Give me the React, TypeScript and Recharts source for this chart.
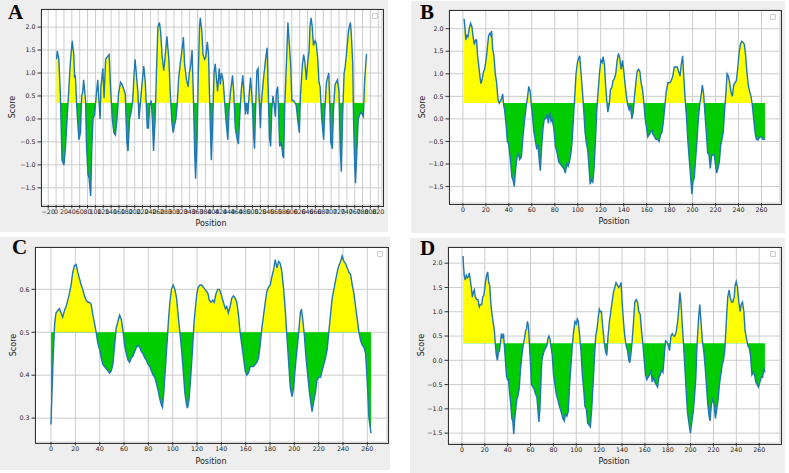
import React from 'react';
import { ComposedChart, Area, XAxis, YAxis, CartesianGrid } from 'recharts';

// Panel A: hydrophilicity-style profile, ~790 residues
const posA = [1, 3, 7, 11, 15, 20, 24, 28, 32, 36, 41, 45, 47, 49, 53, 58, 62, 65, 68, 70, 75, 77, 81, 84, 88, 91, 94, 98, 102, 106, 109, 112, 114, 119, 122, 126, 130, 135, 139, 143, 147, 151, 155, 159, 164, 168, 172, 176, 180, 183, 187, 191, 195, 198, 201, 204, 208, 211, 215, 219, 223, 227, 232, 235, 238, 242, 245, 248, 252, 255, 259, 263, 266, 270, 274, 278, 282, 287, 291, 295, 298, 301, 305, 308, 312, 316, 321, 324, 327, 332, 336, 339, 343, 346, 349, 353, 355, 359, 362, 365, 367, 371, 374, 378, 381, 385, 388, 392, 395, 398, 402, 405, 409, 411, 415, 418, 421, 425, 428, 432, 437, 440, 444, 449, 452, 456, 460, 464, 467, 471, 475, 478, 482, 485, 488, 492, 495, 499, 503, 505, 508, 511, 514, 517, 520, 522, 527, 530, 533, 537, 539, 543, 546, 549, 552, 555, 558, 561, 564, 566, 569, 573, 577, 579, 582, 587, 590, 593, 597, 600, 604, 608, 611, 616, 619, 622, 627, 630, 633, 637, 640, 644, 646, 649, 652, 655, 659, 662, 666, 669, 672, 676, 681, 684, 688, 691, 694, 696, 699, 703, 706, 710, 713, 716, 720, 723, 726, 729, 733, 736, 740, 744, 746, 749, 751, 755, 757, 760, 762, 766, 769, 773, 776, 779, 782, 785, 790];
const scoreA = [1.3, 1.48, 1.3, 0.5, -0.9, -1.0, -0.6, 0.0, 0.6, 1.2, 1.7, 1.4, 0.9, 0.95, 0.2, -0.45, -0.3, 0.5, 0.6, 0.85, 0.4, -0.5, -1.2, -1.3, -1.68, -0.6, 0.0, 0.1, 0.5, 0.85, 0.4, 0.0, 0.7, 1.1, 0.45, 1.3, 1.35, 1.4, 0.6, 0.0, -0.3, -0.35, 0.0, 0.55, 0.8, 0.75, 0.65, 0.55, -0.5, -0.7, 0.0, 0.15, 0.4, 0.9, 1.3, 1.0, 0.6, 0.0, 0.4, 0.8, 1.15, 0.8, -0.2, -0.2, 0.3, 0.4, 0.0, -0.7, 0.0, 0.9, 2.0, 2.1, 1.9, 1.35, 1.05, 1.4, 1.8, 1.3, 0.5, -0.1, -0.3, -0.15, 0.0, 0.3, 0.9, 1.2, 1.55, 1.78, 1.2, 0.85, 0.7, 1.0, 1.2, 1.5, 0.6, -0.8, -1.3, -0.4, 1.0, 2.0, 2.2, 1.9, 1.4, 1.3, 1.35, 1.68, 1.4, 0.0, -0.9, -0.2, 1.0, 1.2, 0.8, 0.6, 1.1, 0.75, 1.0, 0.85, 0.5, 0.0, -0.45, 0.2, 0.6, 0.95, 0.6, -0.2, -0.4, -0.55, 0.0, 0.6, 0.95, 0.6, 0.1, 0.35, 0.1, 0.6, 0.9, 0.4, -0.4, -0.65, 0.3, 1.05, 1.1, 0.4, -0.2, 0.3, 0.8, 1.05, 1.3, 1.55, 0.9, -0.4, -0.6, 0.2, 0.5, 0.3, 0.05, 0.6, 0.7, 0.2, -0.6, -0.5, -0.8, -0.85, 0.3, 1.4, 2.1, 1.7, 1.2, 0.4, 0.4, 0.35, 0.3, -0.1, -0.3, 0.5, 1.2, 1.4, 1.25, 0.85, 1.2, 1.5, 2.0, 2.2, 2.0, 1.6, 1.7, 1.65, 1.3, 0.8, 0.7, 0.0, -0.45, 0.2, 0.8, 0.9, 1.0, 0.5, -0.5, -0.65, 0.2, 0.75, 0.8, 0.85, 0.6, -0.6, -1.15, 0.0, 1.0, 1.15, 1.5, 1.9, 2.0, 2.1, 1.9, 1.2, 0.0, -1.0, -1.4, -0.6, 0.0, 0.1, 0.15, 0.1, 0.05, 0.8, 1.42];

// Panel B
const posB = [1, 1.5, 2.6, 3.5, 4.4, 5.5, 6.7, 7.8, 9.0, 9.9, 11.0, 11.9, 12.8, 13.7, 14.8, 15.7, 16.9, 18.0, 18.9, 20.1, 21.2, 22.4, 23.5, 24.4, 25.0, 25.9, 27.0, 28.2, 29.4, 30.5, 31.7, 32.8, 33.7, 34.6, 35.5, 36.3, 37.5, 38.7, 39.8, 41.3, 42.7, 43.6, 44.8, 45.6, 47.1, 48.5, 49.4, 50.9, 52.3, 53.8, 55.2, 56.4, 57.3, 58.7, 59.6, 60.8, 61.9, 63.1, 64.2, 65.4, 66.6, 67.4, 68.6, 69.8, 70.9, 72.1, 73.3, 74.4, 75.6, 76.7, 77.6, 79.1, 80.5, 82.0, 83.4, 84.9, 86.3, 87.8, 89.2, 90.4, 91.6, 92.7, 93.9, 95.1, 96.2, 97.4, 98.5, 99.7, 100.9, 101.7, 102.9, 104.1, 105.2, 106.4, 107.6, 108.7, 109.6, 110.8, 111.9, 113.1, 114.2, 115.4, 116.6, 117.7, 118.9, 120.1, 121.2, 122.1, 123.3, 124.1, 125.3, 126.2, 127.3, 128.5, 129.7, 130.8, 132.0, 133.1, 134.3, 135.5, 136.6, 137.8, 139.0, 140.1, 141.3, 142.4, 143.6, 144.8, 145.9, 147.1, 148.3, 149.4, 150.6, 151.7, 152.9, 154.1, 155.2, 156.4, 157.6, 158.7, 159.9, 161.0, 162.2, 163.4, 164.5, 165.7, 166.9, 168.0, 169.5, 170.9, 172.1, 173.3, 174.4, 175.9, 177.0, 178.5, 180.0, 181.4, 182.8, 184.0, 185.2, 186.6, 187.8, 189.0, 190.1, 191.3, 192.4, 193.6, 194.8, 195.9, 197.1, 198.3, 199.4, 200.3, 201.5, 202.6, 203.8, 205.0, 206.1, 207.3, 208.5, 209.6, 210.8, 211.9, 213.1, 214.3, 215.4, 216.6, 217.7, 218.9, 220.1, 220.9, 222.1, 223.3, 224.4, 225.6, 226.7, 227.9, 229.1, 230.0, 231.1, 232.3, 233.4, 234.6, 235.8, 236.9, 238.1, 239.2, 240.4, 241.6, 242.7, 243.9, 245.1, 246.2, 247.4, 248.5, 249.7, 250.9, 252.0, 253.2, 254.4, 255.5, 257.0, 258.4, 259.9, 261.3, 263];
const scoreB = [2.22, 2.1, 1.75, 1.85, 1.82, 2.0, 2.12, 2.05, 1.8, 1.65, 1.75, 1.75, 1.4, 1.2, 0.95, 0.78, 0.9, 1.05, 1.1, 1.3, 1.55, 1.85, 1.9, 1.85, 1.95, 1.55, 1.4, 1.0, 0.8, 0.45, 0.35, 0.4, 0.45, 0.55, 0.3, 0.2, -0.1, -0.5, -0.55, -0.9, -1.3, -1.35, -1.5, -1.2, -0.85, -0.78, -0.9, -0.85, -0.4, 0.0, 0.3, 0.5, 0.72, 0.6, 0.3, 0.0, -0.3, -0.5, -0.65, -0.6, -0.95, -1.15, -0.6, -0.2, 0.0, 0.0, 0.1, -0.1, 0.15, -0.05, 0.0, -0.2, -0.6, -0.75, -0.95, -1.0, -1.05, -1.1, -1.2, -1.0, -1.05, -0.95, -0.8, -0.5, 0.0, 0.5, 1.0, 1.25, 1.35, 1.4, 1.0, 0.6, 0.2, -0.3, -0.55, -0.7, -1.0, -1.45, -1.35, -1.4, -1.1, -0.5, 0.2, 0.6, 1.0, 1.3, 1.25, 1.38, 1.2, 0.8, 0.4, 0.15, 0.3, 0.65, 0.7, 0.85, 0.9, 1.0, 1.3, 1.45, 1.35, 1.1, 1.3, 1.05, 0.75, 0.5, 0.3, 0.2, 0.3, 0.0, 0.15, 0.5, 0.8, 1.05, 1.1, 1.05, 0.8, 0.65, 0.35, 0.0, -0.2, -0.4, -0.35, -0.3, -0.25, -0.35, -0.4, -0.45, -0.45, -0.5, -0.35, -0.3, -0.1, 0.3, 0.6, 0.8, 0.8, 0.85, 0.95, 1.15, 1.15, 1.15, 1.05, 0.95, 1.2, 1.4, 0.9, 0.4, 0.0, -0.5, -0.9, -1.3, -1.67, -1.4, -1.3, -0.9, -0.5, 0.0, 0.3, 0.5, 0.75, 0.55, 0.1, -0.3, -0.75, -0.8, -1.1, -0.8, -0.8, -0.8, -1.05, -1.2, -1.1, -0.95, -0.6, -0.45, -0.3, 0.2, 0.6, 1.0, 0.95, 0.8, 0.6, 0.5, 0.75, 0.8, 0.85, 1.1, 1.45, 1.65, 1.72, 1.7, 1.65, 1.4, 1.0, 0.75, 0.6, 0.5, 0.3, 0.0, -0.3, -0.45, -0.47, -0.4, -0.4, -0.45, -0.45];

// Panel C
const posC = [0, 0.8, 1.9, 3.0, 4.1, 5.5, 6.9, 8.3, 9.6, 11.0, 12.4, 13.8, 15.1, 16.5, 17.9, 19.3, 20.6, 22.0, 23.4, 24.8, 26.1, 27.5, 28.9, 30.3, 31.6, 33.0, 34.4, 35.8, 37.1, 38.5, 39.9, 41.3, 42.6, 44.0, 45.4, 46.8, 48.1, 49.5, 50.9, 52.3, 53.6, 55.0, 56.4, 57.8, 59.1, 60.5, 61.9, 63.3, 64.6, 66.0, 67.4, 68.8, 70.2, 71.5, 72.9, 74.3, 75.7, 77.0, 78.4, 79.8, 81.2, 82.5, 83.9, 85.3, 86.7, 88.0, 89.4, 90.8, 91.6, 92.7, 94.1, 95.5, 96.6, 97.7, 99.0, 100.4, 101.8, 103.2, 104.5, 105.9, 107.3, 108.7, 110.0, 111.4, 112.2, 113.3, 114.7, 116.1, 117.5, 118.8, 119.9, 121.0, 122.4, 123.8, 125.2, 126.5, 127.9, 129.0, 130.1, 131.5, 132.9, 134.2, 135.6, 137.0, 138.4, 139.7, 141.1, 142.2, 143.3, 144.4, 145.8, 147.2, 148.6, 149.9, 151.3, 152.7, 154.1, 155.4, 156.8, 158.2, 159.6, 160.9, 162.3, 163.7, 165.1, 166.4, 167.8, 169.2, 170.6, 171.9, 173.3, 174.7, 176.1, 177.4, 178.8, 180.2, 181.6, 182.9, 184.3, 185.7, 187.1, 188.4, 189.8, 191.2, 192.6, 193.9, 195.3, 196.7, 198.1, 199.4, 200.8, 202.2, 203.6, 204.9, 205.8, 206.9, 208.3, 209.6, 211.0, 212.4, 213.8, 214.6, 216.0, 217.3, 218.7, 220.1, 221.5, 222.8, 224.2, 225.6, 227.0, 228.3, 229.7, 231.1, 232.5, 233.8, 235.2, 236.6, 238.0, 239.3, 240.7, 242.1, 243.5, 244.8, 246.2, 247.6, 249.0, 250.3, 251.7, 253.1, 254.5, 255.8, 257.2, 258.6, 260.0, 261.3, 263];
const scoreC = [0.285, 0.36, 0.45, 0.52, 0.545, 0.55, 0.555, 0.545, 0.535, 0.55, 0.56, 0.575, 0.59, 0.61, 0.64, 0.655, 0.658, 0.64, 0.625, 0.61, 0.6, 0.585, 0.575, 0.57, 0.57, 0.565, 0.54, 0.52, 0.5, 0.475, 0.46, 0.44, 0.425, 0.42, 0.415, 0.41, 0.405, 0.41, 0.425, 0.47, 0.51, 0.525, 0.54, 0.53, 0.505, 0.47, 0.45, 0.435, 0.43, 0.44, 0.445, 0.455, 0.465, 0.47, 0.465, 0.455, 0.45, 0.44, 0.435, 0.425, 0.42, 0.41, 0.4, 0.395, 0.38, 0.365, 0.345, 0.33, 0.325, 0.36, 0.42, 0.48, 0.53, 0.57, 0.6, 0.61, 0.6, 0.58, 0.54, 0.5, 0.46, 0.41, 0.36, 0.33, 0.323, 0.34, 0.39, 0.45, 0.52, 0.56, 0.59, 0.605, 0.61, 0.61, 0.605, 0.6, 0.595, 0.59, 0.575, 0.57, 0.575, 0.57, 0.59, 0.6, 0.6, 0.59, 0.575, 0.565, 0.555, 0.56, 0.545, 0.56, 0.58, 0.585, 0.58, 0.57, 0.54, 0.5, 0.47, 0.44, 0.41, 0.4, 0.405, 0.42, 0.42, 0.42, 0.425, 0.43, 0.44, 0.47, 0.51, 0.54, 0.57, 0.595, 0.605, 0.61, 0.63, 0.645, 0.669, 0.65, 0.665, 0.66, 0.64, 0.6, 0.55, 0.49, 0.43, 0.37, 0.35, 0.37, 0.42, 0.46, 0.5, 0.545, 0.554, 0.53, 0.49, 0.44, 0.4, 0.36, 0.33, 0.315, 0.34, 0.36, 0.39, 0.395, 0.395, 0.41, 0.425, 0.44, 0.46, 0.5, 0.54, 0.58, 0.6, 0.62, 0.64, 0.655, 0.665, 0.678, 0.665, 0.66, 0.65, 0.64, 0.635, 0.61, 0.59, 0.56, 0.53, 0.5, 0.48, 0.47, 0.465, 0.45, 0.38, 0.3, 0.265];

// Panel D
const posD = [1, 1.2, 2.0, 2.9, 3.8, 4.7, 5.6, 6.4, 7.3, 8.2, 9.1, 9.9, 10.8, 11.7, 12.9, 14.0, 15.2, 16.1, 17.3, 18.1, 19.3, 20.5, 21.6, 22.5, 23.4, 24.3, 25.2, 26.0, 27.2, 28.4, 29.3, 30.1, 31.0, 31.9, 32.8, 33.6, 34.5, 35.4, 36.3, 37.1, 38.0, 38.9, 39.8, 40.7, 41.8, 42.7, 43.6, 44.5, 45.3, 46.2, 47.1, 48.0, 48.8, 50.0, 51.2, 52.4, 53.5, 54.7, 55.6, 56.5, 57.3, 58.2, 59.1, 60.0, 60.8, 62.0, 63.2, 64.4, 65.5, 66.4, 67.3, 68.2, 69.0, 69.9, 70.8, 72.0, 73.1, 74.3, 75.2, 76.1, 76.9, 77.8, 79.0, 80.1, 81.3, 82.5, 83.7, 84.8, 86.0, 87.2, 88.3, 89.5, 90.7, 91.8, 93.0, 94.2, 95.4, 96.5, 97.7, 98.9, 100.0, 100.9, 101.8, 103.0, 104.1, 105.3, 106.5, 107.6, 108.8, 110.0, 111.2, 112.3, 113.5, 114.7, 115.8, 117.0, 118.2, 119.3, 120.2, 121.1, 122.0, 123.1, 124.3, 125.5, 126.7, 127.8, 129.0, 130.2, 131.3, 132.5, 133.7, 134.8, 136.0, 137.2, 138.4, 139.2, 140.1, 141.3, 142.4, 143.6, 144.8, 146.0, 146.8, 147.7, 148.9, 150.1, 151.2, 152.4, 153.6, 154.7, 155.9, 157.1, 158.2, 159.4, 160.6, 161.8, 162.9, 164.1, 165.3, 166.4, 167.6, 168.8, 169.9, 171.1, 172.3, 173.5, 174.6, 175.8, 177.0, 178.1, 179.3, 180.5, 181.6, 182.8, 184.0, 185.2, 186.3, 187.5, 188.7, 189.8, 190.7, 191.6, 192.8, 193.9, 195.1, 196.3, 197.4, 198.6, 199.8, 200.9, 202.1, 203.3, 204.5, 205.6, 206.8, 208.0, 209.1, 210.3, 211.5, 212.6, 213.8, 215.0, 216.2, 217.0, 218.2, 219.4, 220.5, 221.7, 222.9, 224.1, 225.2, 226.4, 227.6, 228.7, 229.9, 230.8, 231.7, 232.5, 233.7, 234.6, 235.8, 236.9, 238.1, 239.0, 239.9, 241.0, 242.2, 243.4, 244.2, 245.4, 246.6, 247.7, 248.9, 250.1, 251.3, 252.4, 253.6, 254.8, 255.9, 257.1, 258.3, 259.4, 260.6, 261.8, 263.0, 264.1, 265];
const scoreD = [2.15, 2.0, 1.75, 1.65, 1.75, 1.7, 1.72, 1.8, 1.65, 1.5, 1.3, 1.4, 1.45, 1.3, 1.25, 1.25, 1.1, 1.15, 1.15, 1.3, 1.35, 1.6, 1.75, 1.82, 1.6, 1.55, 1.2, 1.0, 0.8, 0.6, 0.3, 0.1, 0.0, 0.15, 0.2, 0.35, 0.55, 0.45, 0.55, 0.3, 0.0, -0.3, -0.4, -0.4, -0.7, -0.9, -1.2, -1.25, -1.52, -1.2, -1.0, -0.8, -0.75, -0.6, -0.2, 0.1, 0.3, 0.45, 0.6, 0.65, 0.8, 0.7, 0.3, -0.1, -0.5, -0.55, -0.6, -0.7, -0.75, -1.0, -1.27, -1.0, -0.5, 0.0, 0.1, 0.2, 0.25, 0.3, 0.45, 0.5, 0.45, 0.3, 0.1, -0.3, -0.5, -0.7, -0.8, -0.9, -1.0, -1.1, -1.2, -1.25, -1.1, -1.15, -1.05, -0.5, -0.1, 0.3, 0.6, 0.8, 0.75, 0.85, 0.8, 0.5, 0.2, -0.3, -0.6, -0.95, -1.0, -1.3, -1.33, -1.37, -1.0, -0.5, 0.0, 0.5, 0.65, 0.9, 1.05, 1.0, 1.0, 0.7, 0.4, 0.2, 0.1, 0.5, 0.8, 1.0, 1.2, 1.4, 1.5, 1.6, 1.55, 1.5, 1.55, 1.6, 1.2, 0.8, 0.5, 0.3, 0.2, 0.0, -0.05, 0.1, 0.4, 0.8, 1.2, 1.25, 1.2, 1.0, 0.95, 0.6, 0.35, 0.0, -0.3, -0.4, -0.35, -0.3, -0.2, -0.45, -0.35, -0.45, -0.5, -0.55, -0.35, -0.3, -0.2, -0.25, 0.1, 0.4, 0.38, 0.3, 0.2, 0.5, 0.55, 0.5, 0.5, 0.6, 0.8, 1.1, 1.4, 1.2, 0.7, 0.3, -0.2, -0.7, -1.1, -1.3, -1.5, -1.3, -1.1, -0.8, -0.4, 0.3, 0.8, 1.15, 0.8, 0.4, 0.2, -0.1, -0.5, -0.9, -1.15, -1.25, -0.9, -0.8, -0.9, -1.2, -1.0, -0.8, -0.5, -0.3, -0.1, 0.0, 0.2, 0.6, 1.0, 1.3, 1.45, 1.3, 1.2, 1.2, 1.3, 1.55, 1.62, 1.5, 1.2, 1.0, 1.15, 1.2, 1.0, 0.6, 0.45, 0.3, 0.25, 0.1, -0.3, -0.25, -0.3, -0.45, -0.5, -0.55, -0.45, -0.35, -0.35, -0.15, -0.25];

const xTicksA = [-20, 0, 20, 40, 60, 80, 100, 120, 140, 160, 180, 200, 220, 240, 260, 280, 300, 320, 340, 360, 380, 400, 420, 440, 460, 480, 500, 520, 540, 560, 580, 600, 620, 640, 660, 680, 700, 720, 740, 760, 780, 800, 820];
const xTicksShort = [0, 20, 40, 60, 80, 100, 120, 140, 160, 180, 200, 220, 240, 260];
const yTicksWide = [-1.5, -1.0, -0.5, 0.0, 0.5, 1.0, 1.5, 2.0];
const yTicksC = [0.3, 0.4, 0.5, 0.6];
const thresholdWide = 0.35;
const thresholdC = 0.5;

const FONT = '"DejaVu Sans", sans-serif';
const minus = (s: string) => s.replace('-', '\u2212');

function pad(vals: number[]): [number, number] {
  const lo = Math.min(...vals);
  const hi = Math.max(...vals);
  const m = (hi - lo) * 0.05;
  return [lo - m, hi + m];
}

function minorFrom(majors: number[], dom: [number, number]) {
  const out: number[] = [];
  const step = (majors[1] - majors[0]) / 4;
  const first = majors[0] - 4 * step;
  for (let v = first; v <= dom[1]; v += step) {
    if (v >= dom[0]) out.push(v);
  }
  return out;
}

type Box = { left: number; top: number; w: number; h: number };
type Plot = { left: number; top: number; right: number; bottom: number };

interface PanelProps {
  id: string;
  letter: string;
  pos: number[];
  score: number[];
  threshold: number;
  xTicks: number[];
  yTicks: number[];
  box: Box;
  plot: Plot;
  letterAt: [number, number];
  scoreAt: [number, number];
  positionAt: [number, number];
}

function Panel(p: PanelProps) {
  const { box, plot } = p;
  const data = p.pos.map((x, i) => ({ pos: x, score: p.score[i] }));
  const xDom = pad(p.pos);
  const yDom = pad(p.score);
  const hi = Math.max(...p.score, p.threshold);
  const lo = Math.min(...p.score, p.threshold);
  const off = (hi - p.threshold) / (hi - lo);
  const minor = minorFrom(p.xTicks, xDom);

  const top = plot.top - box.top;
  const yW = plot.left - box.left;
  const right = box.left + box.w - plot.right;
  const xH = box.top + box.h - plot.bottom;
  const pl = plot.left - box.left;
  const pt = plot.top - box.top;
  const pw = plot.right - plot.left;
  const ph = plot.bottom - plot.top;
  const tickStyle = { fontSize: 6.3, fill: '#222', fontFamily: FONT };
  const yFmt = (v: number) => minus(v.toFixed(1));

  return (
    <div style={{ position: 'absolute', left: box.left, top: box.top, width: box.w, height: box.h, background: '#eeeeee' }}>
      <div style={{ position: 'absolute', left: pl, top: pt, width: pw, height: ph, background: '#fff' }} />
      <div style={{ position: 'absolute', left: 0, top: 0 }}>
        <ComposedChart width={box.w} height={box.h} data={data} margin={{ top, right, left: 0, bottom: 0 }}>
          <defs>
            <linearGradient id={p.id} x1="0" y1="0" x2="0" y2="1">
              <stop offset={off} stopColor="#ffff00" />
              <stop offset={off} stopColor="#00cc00" />
            </linearGradient>
          </defs>
          <CartesianGrid stroke="#cccccc" strokeWidth={1} />
          <XAxis
            xAxisId="minor"
            type="number"
            dataKey="pos"
            domain={xDom}
            allowDataOverflow
            ticks={minor}
            interval={0}
            height={0}
            axisLine={false}
            tickSize={2}
            tickLine={{ stroke: '#333' }}
            tickFormatter={() => ''}
          />
          <XAxis
            type="number"
            dataKey="pos"
            domain={xDom}
            allowDataOverflow
            ticks={p.xTicks}
            interval={0}
            height={xH}
            axisLine={false}
            tickSize={3.5}
            tickMargin={1}
            tickLine={{ stroke: '#333' }}
            tick={tickStyle}
            tickFormatter={(v: number) => minus(String(v))}
          />
          <YAxis
            type="number"
            domain={yDom}
            allowDataOverflow
            ticks={p.yTicks}
            interval={0}
            width={yW}
            axisLine={false}
            tickSize={3.5}
            tickMargin={2}
            tickLine={{ stroke: '#333' }}
            tick={tickStyle}
            tickFormatter={yFmt}
          />
          <Area
            type="linear"
            dataKey="score"
            baseValue={p.threshold}
            stroke="#1f77b4"
            strokeWidth={1.4}
            fill={`url(#${p.id})`}
            fillOpacity={1}
            dot={false}
            activeDot={false}
            isAnimationActive={false}
          />
        </ComposedChart>
      </div>
      <div style={{ position: 'absolute', left: pl - 0.5, top: pt - 0.5, width: pw, height: ph, border: '1px solid #333', pointerEvents: 'none' }} />
      <div style={{ position: 'absolute', left: pl + pw - 10, top: pt + 4, width: 4, height: 4, border: '1px solid #ccc', borderRadius: 1, background: '#fff' }} />
      <div style={{ position: 'absolute', left: p.letterAt[0] - box.left, top: p.letterAt[1] - box.top - 3, fontFamily: '"Liberation Serif", serif', fontWeight: 'bold', fontSize: 21, lineHeight: 1, color: '#000' }}>
        {p.letter}
      </div>
      <div style={{ position: 'absolute', left: p.scoreAt[0] - box.left, top: p.scoreAt[1] - box.top, transform: 'translate(-50%, -50%) rotate(-90deg)', fontFamily: FONT, fontSize: 8, color: '#222', whiteSpace: 'nowrap' }}>
        Score
      </div>
      <div style={{ position: 'absolute', left: p.positionAt[0] - box.left, top: p.positionAt[1] - box.top, transform: 'translate(-50%, -50%)', fontFamily: FONT, fontSize: 8, color: '#222', whiteSpace: 'nowrap' }}>
        Position
      </div>
    </div>
  );
}

export default function App() {
  return (
    <div style={{ position: 'fixed', left: 0, top: 0, width: 789, height: 473, background: '#fff' }}>
      <Panel
        id="gA" letter="A" pos={posA} score={scoreA} threshold={thresholdWide}
        xTicks={xTicksA} yTicks={yTicksWide}
        box={{ left: 0, top: 0, w: 388, h: 232 }}
        plot={{ left: 41, top: 9, right: 382, bottom: 205 }}
        letterAt={[8, 5]} scoreAt={[12, 107]} positionAt={[211, 223]}
      />
      <Panel
        id="gB" letter="B" pos={posB} score={scoreB} threshold={thresholdWide}
        xTicks={xTicksShort} yTicks={yTicksWide}
        box={{ left: 411, top: 1, w: 374, h: 232 }}
        plot={{ left: 449, top: 10, right: 780, bottom: 203 }}
        letterAt={[420, 5]} scoreAt={[422, 107]} positionAt={[614, 221]}
      />
      <Panel
        id="gC" letter="C" pos={posC} score={scoreC} threshold={thresholdC}
        xTicks={xTicksShort} yTicks={yTicksC}
        box={{ left: 0, top: 237, w: 390, h: 233 }}
        plot={{ left: 35, top: 247, right: 387, bottom: 442 }}
        letterAt={[12, 240]} scoreAt={[13, 345]} positionAt={[211, 461]}
      />
      <Panel
        id="gD" letter="D" pos={posD} score={scoreD} threshold={thresholdWide}
        xTicks={xTicksShort} yTicks={yTicksWide}
        box={{ left: 410, top: 238, w: 375, h: 235 }}
        plot={{ left: 448, top: 247, right: 780, bottom: 443 }}
        letterAt={[420, 241]} scoreAt={[421, 345]} positionAt={[614, 461]}
      />
    </div>
  );
}
